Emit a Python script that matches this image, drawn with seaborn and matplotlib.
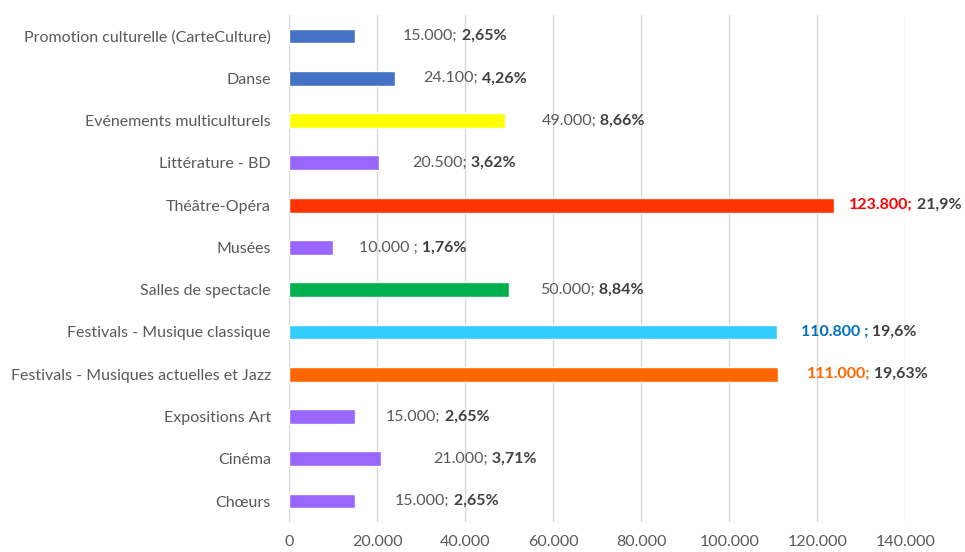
import numpy as np
import pandas as pd
import matplotlib
matplotlib.use("Agg")
import matplotlib.pyplot as plt
import seaborn as sns
from matplotlib.ticker import FuncFormatter

# données (de haut en bas)
categories = [
    "Promotion culturelle (CarteCulture)",
    "Danse",
    "Evénements multiculturels",
    "Littérature - BD",
    "Théâtre-Opéra",
    "Musées",
    "Salles de spectacle",
    "Festivals - Musique classique",
    "Festivals - Musiques actuelles et Jazz",
    "Expositions Art",
    "Cinéma",
    "Chœurs",
]
montants = [15000, 24100, 49000, 20500, 123800, 10000, 50000, 110800, 111000, 15000, 21000, 15000]
montant_labels = ["15.000", "24.100", "49.000", "20.500", "123.800", "10.000 ", "50.000",
                  "110.800 ", "111.000", "15.000", "21.000", "15.000"]
pct_labels = ["2,65%", "4,26%", "8,66%", "3,62%", "21,9%", "1,76%", "8,84%",
              "19,6%", "19,63%", "2,65%", "3,71%", "2,65%"]

# styles
bar_colors = ["#4472C4", "#4472C4", "#FFFF00", "#9966FF", "#FF3300", "#9966FF", "#00B050",
              "#33CCFF", "#FF6600", "#9966FF", "#9966FF", "#9966FF"]
value_colors = ["#595959"] * 12
value_colors[4] = "#FF0000"
value_colors[7] = "#0070C0"
value_colors[8] = "#FF6600"
value_bold = [False] * 12
value_bold[4] = value_bold[7] = value_bold[8] = True
label_offsets = [48, 28, 37, 33, 15, 26, 31, 24, 29, 31, 52, 40]  # pixels

sns.set_theme(style="white")
plt.rcParams["font.family"] = ["Lato", "DejaVu Sans"]

df = pd.DataFrame({"categorie": categories, "montant": montants})

fig = plt.figure(figsize=(9.65, 5.52), dpi=100)
ax = fig.add_axes([0.2995, 0.054, 0.6385, 0.919])

sns.barplot(data=df, y="categorie", x="montant", hue="categorie",
            palette=dict(zip(categories, bar_colors)), orient="h",
            width=0.35, legend=False, ax=ax, saturation=1)

ax.set_xlim(0, 140000)
ax.set_ylim(len(categories) - 0.5, -0.5)
ax.set_xticks(np.arange(0, 140001, 20000))
ax.xaxis.set_major_formatter(FuncFormatter(lambda v, p: f"{int(v):,}".replace(",", ".")))
ax.grid(axis="x", color="#D9D9D9", linewidth=1)
ax.set_axisbelow(True)
for s in ax.spines.values():
    s.set_visible(False)
ax.set_xlabel("")
ax.set_ylabel("")
ax.tick_params(axis="both", length=0, labelsize=11.5, colors="#595959")
ax.tick_params(axis="y", pad=13)
ax.tick_params(axis="x", pad=9)

for i, (v, ml, pl) in enumerate(zip(montants, montant_labels, pct_labels)):
    t1 = ax.annotate(ml + ";", xy=(v, i), xytext=(label_offsets[i] * 0.72, 0),
                     textcoords="offset points", va="center", ha="left",
                     fontsize=11.5, color=value_colors[i],
                     fontweight="bold" if value_bold[i] else "normal",
                     annotation_clip=False)
    ax.annotate(" " + pl, xy=(1, 0), xycoords=t1, va="bottom", ha="left",
                fontsize=11.5, color="#404040", fontweight="bold",
                annotation_clip=False)

fig.savefig("out.png", dpi=100)
